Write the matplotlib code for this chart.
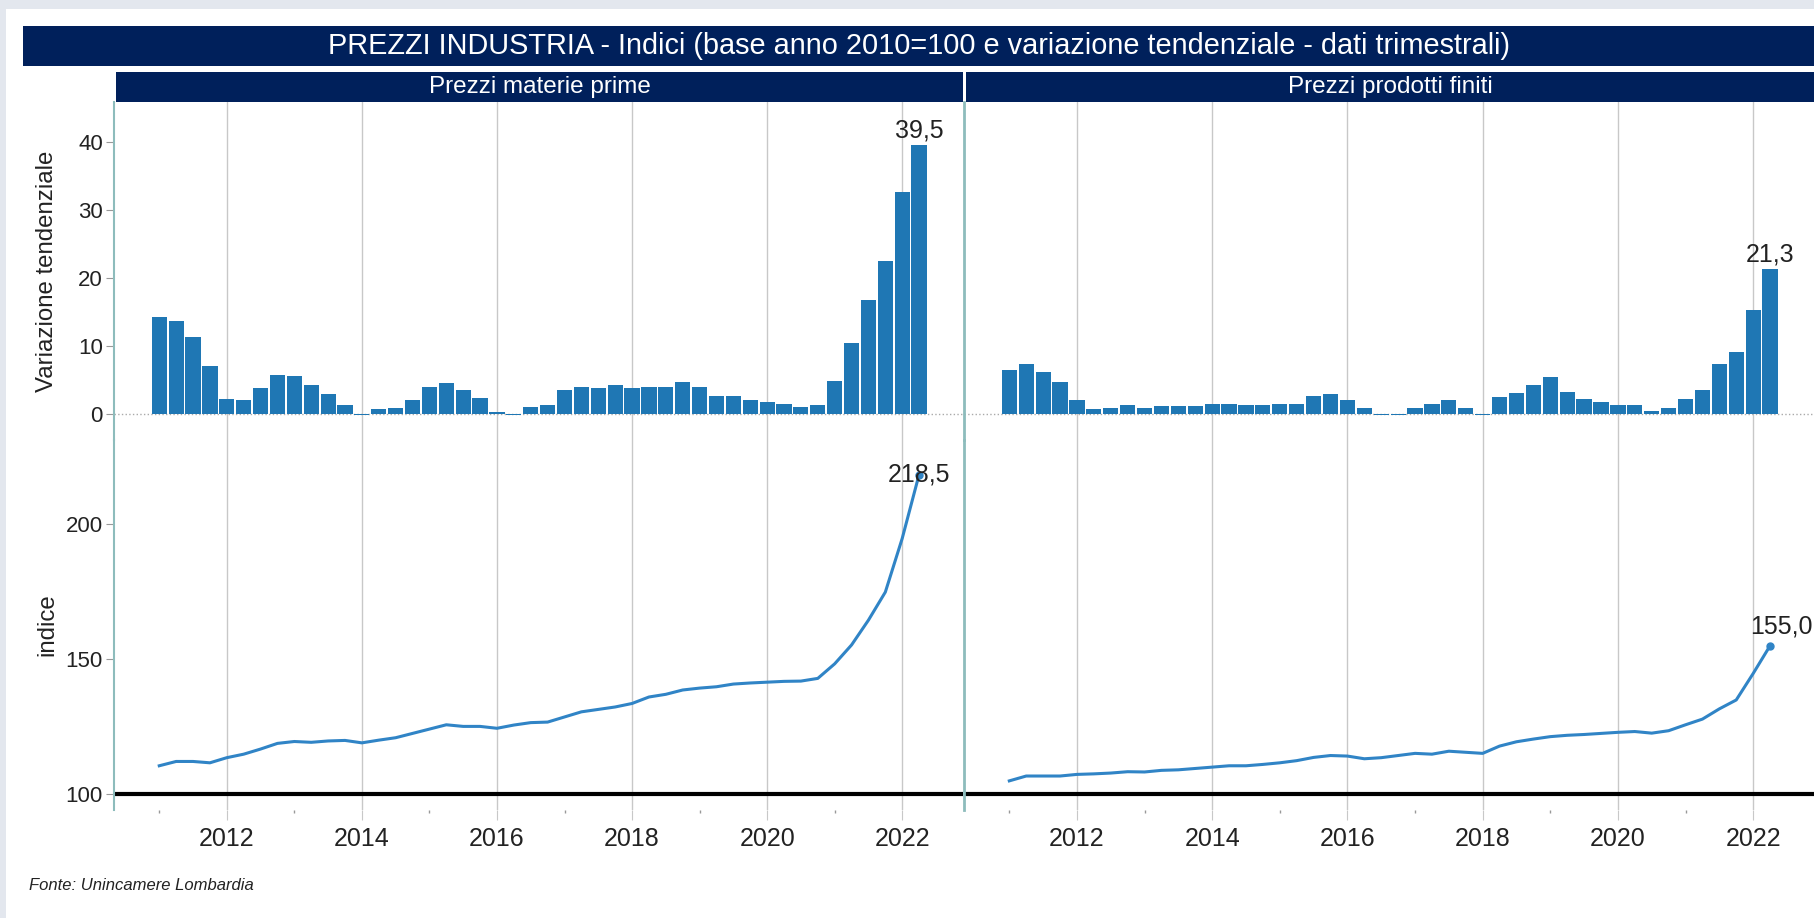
import numpy as np
import matplotlib.pyplot as plt
from matplotlib.patches import Rectangle

plt.rcParams["font.family"] = ["Liberation Sans", "DejaVu Sans"]

# trimestri 2011Q1 - 2022Q2
anni = [2011 + i / 4 for i in range(46)]

var_materie = [14.2, 13.6, 11.3, 7.1, 2.2, 2.0, 3.8, 5.8, 5.6, 4.2, 2.9, 1.4,
               -0.2, 0.7, 0.9, 2.0, 4.0, 4.5, 3.6, 2.3, 0.3, -0.2, 1.1, 1.4,
               3.6, 4.0, 3.8, 4.2, 3.8, 4.0, 4.0, 4.7, 4.0, 2.7, 2.7, 2.0,
               1.8, 1.5, 1.1, 1.4, 4.9, 10.5, 16.7, 22.5, 32.6, 39.5]
var_finiti = [6.5, 7.4, 6.2, 4.7, 2.0, 0.7, 0.9, 1.4, 0.9, 1.2, 1.2, 1.2,
              1.5, 1.5, 1.4, 1.4, 1.5, 1.5, 2.7, 2.9, 2.0, 0.9, -0.2, -0.2,
              0.9, 1.5, 2.0, 0.9, -0.2, 2.5, 3.1, 4.2, 5.4, 3.3, 2.2, 1.8,
              1.4, 1.4, 0.4, 0.9, 2.2, 3.6, 7.4, 9.1, 15.3, 21.3]
ind_materie = [110.5, 112.1, 112.1, 111.6, 113.5, 114.8, 116.7, 118.8, 119.5, 119.2,
               119.7, 119.9, 119.0, 120.0, 120.9, 122.5, 124.1, 125.7, 125.1, 125.1,
               124.4, 125.6, 126.5, 126.7, 128.6, 130.5, 131.4, 132.3, 133.6, 136.0,
               137.0, 138.6, 139.3, 139.8, 140.8, 141.2, 141.5, 141.8, 141.9, 142.9,
               148.3, 155.3, 164.5, 174.9, 194.8, 218.5]
ind_finiti = [104.9, 106.7, 106.7, 106.7, 107.3, 107.5, 107.8, 108.3, 108.2, 108.8,
              109.0, 109.5, 110.0, 110.5, 110.5, 111.0, 111.6, 112.4, 113.6, 114.3,
              114.1, 113.1, 113.5, 114.3, 115.1, 114.8, 115.9, 115.5, 115.1, 117.8,
              119.4, 120.4, 121.3, 121.8, 122.1, 122.5, 122.9, 123.2, 122.6, 123.5,
              125.7, 127.8, 131.6, 134.9, 144.7, 155.0]

pannelli = ["Prezzi materie prime", "Prezzi prodotti finiti"]
titolo = "PREZZI INDUSTRIA - Indici (base anno 2010=100 e variazione tendenziale - dati trimestrali)"

W, H = 1814, 918
NAVY = "#00205b"
BLU = "#1f77b4"
LINEA = "#3084c6"
TEAL = "#8dbcbc"
GRIGIO = "#c8c8c8"
TESTO = "#222222"

fig = plt.figure(figsize=(W / 100, H / 100), dpi=100, facecolor="#e3e7ee")


def box(x0, y0, x1, y1):
    # pixel dall'alto -> coordinate figura
    return [x0 / W, 1 - y1 / H, (x1 - x0) / W, (y1 - y0) / H]


def rett(x0, y0, x1, y1, colore, z):
    b = box(x0, y0, x1, y1)
    fig.patches.append(Rectangle((b[0], b[1]), b[2], b[3], transform=fig.transFigure,
                                 facecolor=colore, edgecolor="none", zorder=z))


# sfondo bianco e barre dei titoli
rett(6, 9, W, H, "white", -3)
rett(23, 26, W, 66, NAVY, -2)
fig.text((23 + W) / 2 / W, 1 - 46 / H, titolo, color="white", fontsize=20.8,
         ha="center", va="center")

lim_x = (2010.33, 2022.9)
colonne = [(114, 963, 116, 963), (964, 1814, 966, W)]
serie = [(var_materie, ind_materie), (var_finiti, ind_finiti)]

for k, (x0, x1, hx0, hx1) in enumerate(colonne):
    rett(hx0, 72, hx1, 102, NAVY, -2)
    fig.text((hx0 + hx1) / 2 / W, 1 - 87 / H, pannelli[k], color="white",
             fontsize=17.5, ha="center", va="center")

    var, ind = serie[k]
    ax1 = fig.add_axes(box(x0, 102, x1, 440))
    ax2 = fig.add_axes(box(x0, 440, x1, 810))

    # barre variazione tendenziale
    ax1.bar(anni, var, width=0.225, color=BLU, edgecolor="none", zorder=3)
    ax1.axhline(0, color="#aaaaaa", linestyle=":", linewidth=1, zorder=2)
    ax1.set_ylim(-3.8, 45.8)
    ax1.annotate(f"{var[-1]:.1f}".replace(".", ","), (anni[-1], var[-1]),
                 xytext=(0, 2), textcoords="offset points", ha="center", va="bottom",
                 fontsize=18, color=TESTO)

    # linea indice
    ax2.plot(anni, ind, color=LINEA, linewidth=2.2, zorder=3)
    ax2.plot(anni[-1], ind[-1], "o", color=LINEA, markersize=5, zorder=3)
    ax2.axhline(100, color="black", linewidth=3, zorder=2)
    ax2.set_ylim(94.1, 231.3)
    if k == 0:
        ax2.annotate(f"{ind[-1]:.1f}".replace(".", ","), (anni[-1], ind[-1]),
                     xytext=(0, 0), textcoords="offset points", ha="center",
                     va="center", fontsize=18, color=TESTO, zorder=4)
    else:
        ax2.annotate(f"{ind[-1]:.1f}".replace(".", ","), (anni[-1], ind[-1]),
                     xytext=(8, 5), textcoords="offset points", ha="center",
                     va="bottom", fontsize=18, color=TESTO, zorder=4)

    for ax in (ax1, ax2):
        ax.set_xlim(*lim_x)
        ax.set_facecolor("none")
        for s in ax.spines.values():
            s.set_visible(False)
        ax.spines["left"].set_visible(True)
        ax.spines["left"].set_color(TEAL)
        ax.spines["left"].set_linewidth(2 if k == 1 else 1.5)
        ax.set_xticks(range(2012, 2023, 2))
        ax.grid(axis="x", color=GRIGIO, linewidth=1, zorder=1)
        ax.tick_params(axis="y", colors="#999999", labelcolor=TESTO,
                       labelsize=16, length=6, pad=2)

    ax1.tick_params(axis="x", length=0, labelbottom=False)
    ax2.set_xticks(range(2011, 2023, 2), minor=True)
    ax2.tick_params(axis="x", which="major", colors=GRIGIO, labelcolor=TESTO,
                    labelsize=18, length=7, pad=5)
    ax2.tick_params(axis="x", which="minor", colors="#999999", length=2, width=1)

    if k == 0:
        ax1.set_yticks([0, 10, 20, 30, 40])
        ax2.set_yticks([100, 150, 200])
        ax1.set_ylabel("Variazione tendenziale", fontsize=17.3, color=TESTO)
        ax2.set_ylabel("indice", fontsize=17.3, color=TESTO)
        ax1.yaxis.set_label_coords(-0.066, 0.5)
        ax2.yaxis.set_label_coords(-0.066, 0.5)
    else:
        ax1.set_yticks([])
        ax2.set_yticks([])

fig.text(29 / W, 1 - 886 / H, "Fonte: Unincamere Lombardia", fontsize=12,
         style="italic", color=TESTO, ha="left", va="center")

fig.savefig("out.png", dpi=100, facecolor=fig.get_facecolor())
